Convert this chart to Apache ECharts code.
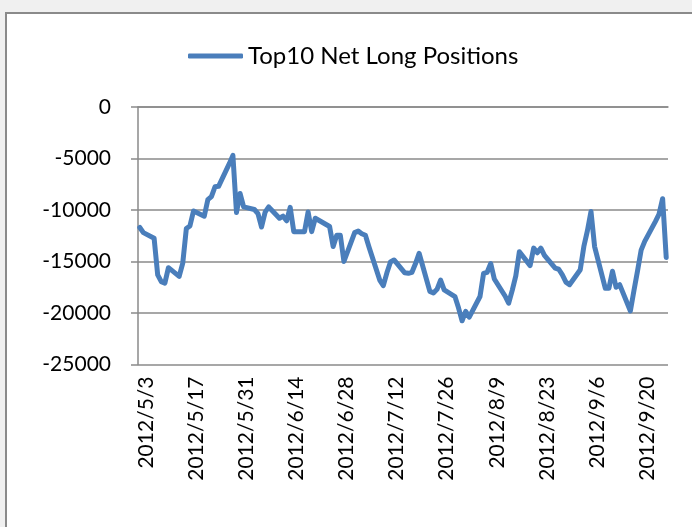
<!DOCTYPE html>
<html>
<head>
<meta charset="utf-8">
<script src="https://cdn.jsdelivr.net/npm/echarts@6/dist/echarts.min.js"></script>
<style>
  html, body { margin: 0; padding: 0; background: #f0f0f0; }
  #frame { position: absolute; left: 5px; top: 12px; width: 700px; height: 530px; background: #fff; border: 2px solid #8a8a8a; box-sizing: border-box; }
  #chart { position: absolute; left: 0; top: 0; width: 692px; height: 527px; }
</style>
</head>
<body>
<div id="frame"></div>
<div id="chart"></div>
<script>
// trading days and values
const tradeDays = [
  '2012/5/3', '2012/5/4', '2012/5/7', '2012/5/8', '2012/5/9', '2012/5/10', '2012/5/11',
  '2012/5/14', '2012/5/15', '2012/5/16', '2012/5/17', '2012/5/18',
  '2012/5/21', '2012/5/22', '2012/5/23', '2012/5/24', '2012/5/25',
  '2012/5/28', '2012/5/29', '2012/5/30', '2012/5/31', '2012/6/1',
  '2012/6/4', '2012/6/5', '2012/6/6', '2012/6/7', '2012/6/8',
  '2012/6/11', '2012/6/12', '2012/6/13', '2012/6/14', '2012/6/15',
  '2012/6/18', '2012/6/19', '2012/6/20', '2012/6/21',
  '2012/6/25', '2012/6/26', '2012/6/27', '2012/6/28', '2012/6/29',
  '2012/7/2', '2012/7/3', '2012/7/4', '2012/7/5', '2012/7/6',
  '2012/7/9', '2012/7/10', '2012/7/11', '2012/7/12', '2012/7/13',
  '2012/7/16', '2012/7/17', '2012/7/18', '2012/7/19', '2012/7/20',
  '2012/7/23', '2012/7/24', '2012/7/25', '2012/7/26', '2012/7/27',
  '2012/7/30', '2012/7/31', '2012/8/1', '2012/8/2', '2012/8/3',
  '2012/8/6', '2012/8/7', '2012/8/8', '2012/8/9', '2012/8/10',
  '2012/8/13', '2012/8/14', '2012/8/15', '2012/8/16', '2012/8/17',
  '2012/8/20', '2012/8/21', '2012/8/22', '2012/8/23', '2012/8/24',
  '2012/8/27', '2012/8/28', '2012/8/29', '2012/8/30', '2012/8/31',
  '2012/9/3', '2012/9/4', '2012/9/5', '2012/9/6', '2012/9/7',
  '2012/9/10', '2012/9/11', '2012/9/12', '2012/9/13', '2012/9/14',
  '2012/9/17', '2012/9/18', '2012/9/19', '2012/9/20', '2012/9/21',
  '2012/9/24', '2012/9/25', '2012/9/26', '2012/9/27'
]
const netLong = [
  -11700, -12200, -12750, -16300, -16950, -17100, -15600,
  -16450, -15150, -11800, -11550, -10100,
  -10600, -9000, -8700, -7750, -7700,
  -5500, -4700, -10250, -8400, -9700,
  -9950, -10350, -11650, -10200, -9700,
  -10800, -10600, -11050, -9750, -12100,
  -12100, -10200, -12100, -10800,
  -11600, -13550, -12450, -12450, -15000,
  -12200, -12050, -12300, -12450, -13600,
  -16800, -17350, -16100, -15050, -14850,
  -16100, -16150, -16050, -15200, -14200,
  -17900, -18050, -17700, -16800, -17750,
  -18400, -19500, -20750, -19850, -20400,
  -18400, -16150, -16050, -15200, -16700,
  -18350, -19050, -17800, -16400, -14050,
  -15400, -13700, -14150, -13700, -14400,
  -15650, -15750, -16300, -17000, -17250,
  -15800, -13550, -12000, -10150, -13550,
  -17600, -17600, -15950, -17500, -17250,
  -19800, -17800, -15900, -13900, -13050,
  -11100, -10400, -8900, -14600
]
const seriesName = 'Top10 Net Long Positions'
const yTicks = [-25000, -20000, -15000, -10000, -5000, 0]

// calendar days on the date axis, 2012/5/3 .. 2012/9/27
const calendar = []
for (let t = new Date(2012, 4, 3); t <= new Date(2012, 8, 27); t.setDate(t.getDate() + 1)) {
  calendar.push(t.getFullYear() + '/' + (t.getMonth() + 1) + '/' + t.getDate())
}
const lineData = calendar.map(day => {
  const i = tradeDays.indexOf(day)
  return i >= 0 ? netLong[i] : null
})

const font = 'Lato, "Open Sans", sans-serif'
const gridColor = '#8a8a8a'
const chart = echarts.init(document.getElementById('chart'), null, { renderer: 'canvas' })
chart.setOption({
  animation: false,
  backgroundColor: 'transparent',
  legend: {
    data: [seriesName],
    left: 183,
    top: 39,
    icon: 'roundRect',
    itemWidth: 55,
    itemHeight: 5,
    textStyle: { fontFamily: font, fontSize: 24, color: '#000' }
  },
  grid: { left: 138, right: 24, top: 107, bottom: 162.5 },
  xAxis: [
    {
      type: 'category',
      data: calendar,
      position: 'bottom',
      boundaryGap: true,
      axisLine: { show: false },
      axisTick: { show: false },
      axisLabel: {
        interval: 13,
        rotate: 90,
        margin: 12,
        verticalAlign: 'top',
        lineHeight: 12,
        fontFamily: font,
        fontSize: 21,
        color: '#000'
      }
    },
    {
      type: 'category',
      data: calendar,
      position: 'top',
      boundaryGap: true,
      axisLine: { lineStyle: { color: gridColor, width: 1.5 } },
      axisTick: { interval: 13, inside: true, length: 7, lineStyle: { color: gridColor, width: 1.5 } },
      axisLabel: { show: false }
    }
  ],
  yAxis: {
    type: 'value',
    min: yTicks[0],
    max: yTicks[yTicks.length - 1],
    interval: 5000,
    axisLine: { show: true, lineStyle: { color: gridColor, width: 1.5 } },
    axisTick: { show: true, length: 7, lineStyle: { color: gridColor, width: 1.5 } },
    splitLine: { lineStyle: { color: gridColor, width: 1.5 } },
    axisLabel: {
      margin: 27,
      fontFamily: font,
      fontSize: 21,
      color: '#000',
      formatter: v => String(v)
    }
  },
  series: [
    {
      name: seriesName,
      type: 'line',
      data: lineData,
      connectNulls: true,
      showSymbol: false,
      symbol: 'none',
      lineStyle: { color: '#4a7ebb', width: 5, join: 'round', cap: 'round' },
      itemStyle: { color: '#4a7ebb' }
    }
  ]
})
</script>
</body>
</html>
